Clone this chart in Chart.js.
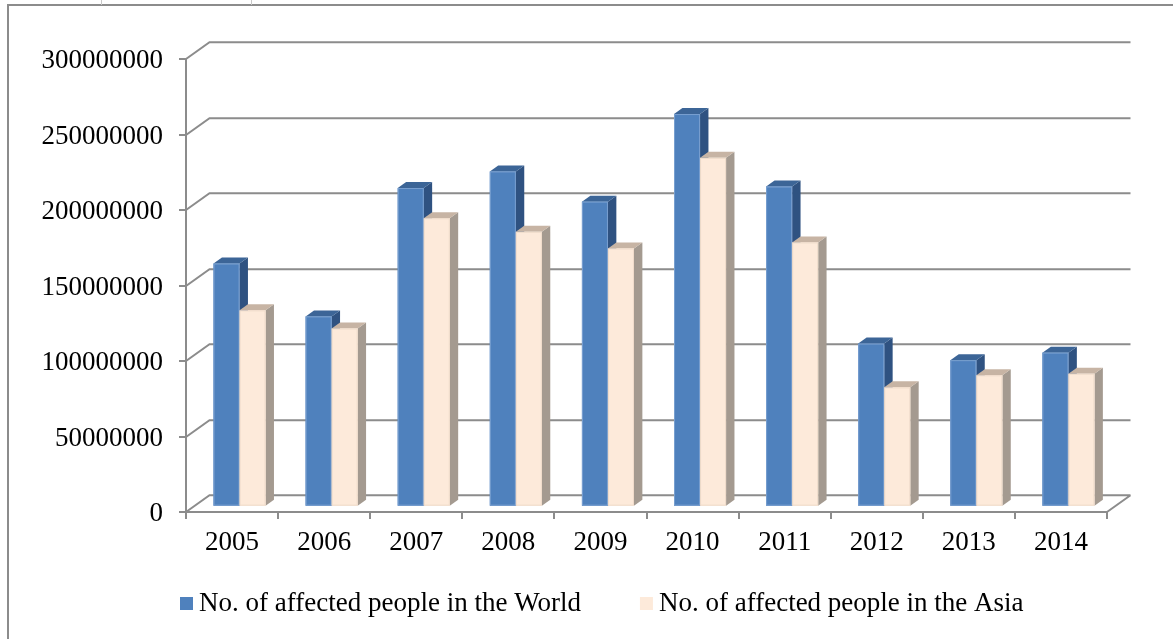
<!DOCTYPE html>
<html>
<head>
<meta charset="utf-8">
<script src="https://cdn.jsdelivr.net/npm/chart.js@4.4.1/dist/chart.umd.min.js"></script>
<style>
  html, body { margin: 0; padding: 0; background: #ffffff; overflow: hidden; }
  #wrap { width: 1173px; height: 639px; position: relative; }
  canvas { display: block; }
</style>
</head>
<body>
<div id="wrap"><canvas id="chart" width="1173" height="639"></canvas></div>
<script>
// Affected people by year
const years = ['2005', '2006', '2007', '2008', '2009', '2010', '2011', '2012', '2013', '2014'];
const worldAffected = [161000000, 126000000, 211000000, 222000000, 202000000, 260000000, 212000000, 108000000, 97000000, 102000000];
const asiaAffected  = [130000000, 118000000, 191000000, 182000000, 171000000, 231000000, 175000000, 79000000, 87000000, 88000000];
const yTicks = [0, 50000000, 100000000, 150000000, 200000000, 250000000, 300000000];

const seriesNames = ['No. of affected people in the World', 'No. of affected people in the Asia'];

// Face colours for the 3D columns: front, top, side
const faces = [
  { front: '#4F81BD', top: '#3C6597', side: '#2F5281', edge: 'rgba(150,180,220,0.6)' },
  { front: '#FDEADA', top: '#C7B4A4', side: '#A49A90', edge: 'rgba(235,215,198,0.8)' }
];

const GRID = '#8c8c8c';
const FONT = "'Liberation Serif', 'Times New Roman', serif";
const FONT_SIZE = 27;

// Oblique projection: back wall offset, column front plane and column depth
const WALL = { dx: 23.5, dy: -16.7 };
const PLANE = { dx: 7.5, dy: -5.35 };
const DEPTH = { dx: 8.4, dy: -6.0 };

const threeD = {
  id: 'threeD',
  beforeDraw(chart) {
    const ctx = chart.ctx;
    ctx.save();
    ctx.fillStyle = '#ffffff';
    ctx.fillRect(0, 0, chart.width, chart.height);
    // outer frame
    ctx.strokeStyle = '#8c8c8c';
    ctx.lineWidth = 2;
    ctx.beginPath();
    ctx.moveTo(8, chart.height);
    ctx.lineTo(8, 5);
    ctx.lineTo(chart.width, 5);
    ctx.stroke();
    ctx.strokeStyle = '#c8c8c8';
    ctx.lineWidth = 1;
    ctx.beginPath();
    [101.5, 251.5].forEach(x => { ctx.moveTo(x, 0); ctx.lineTo(x, 5); });
    ctx.stroke();
    ctx.restore();
  },
  beforeDatasetsDraw(chart) {
    const ctx = chart.ctx;
    const { left, right, bottom } = chart.chartArea;
    const ys = chart.scales.y;
    ctx.save();
    ctx.strokeStyle = GRID;
    ctx.lineWidth = 2;
    ctx.beginPath();
    yTicks.forEach(v => {
      const yf = Math.round(ys.getPixelForValue(v));
      ctx.moveTo(left, yf);
      ctx.lineTo(left + WALL.dx, yf + WALL.dy);
      ctx.lineTo(right + WALL.dx, yf + WALL.dy);
    });
    // right edge of the floor
    ctx.moveTo(right, bottom);
    ctx.lineTo(right + WALL.dx, bottom + WALL.dy);
    ctx.stroke();
    ctx.restore();
    // columns sit on a plane set back from the front axis
    ctx.save();
    ctx.translate(PLANE.dx, PLANE.dy);
  },
  afterDatasetsDraw(chart) {
    const ctx = chart.ctx;
    ctx.restore();
    const metas = chart.data.datasets.map((d, i) => chart.getDatasetMeta(i));
    ctx.save();
    for (let i = 0; i < years.length; i++) {
      metas.forEach((meta, di) => {
        const bar = meta.data[i];
        if (!bar) return;
        const p = bar.getProps(['x', 'y', 'base', 'width'], true);
        const c = faces[di];
        const x0 = p.x - p.width / 2 + PLANE.dx;
        const x1 = p.x + p.width / 2 + PLANE.dx;
        const yt = p.y + PLANE.dy;
        const yb = p.base + PLANE.dy;
        // side face
        ctx.fillStyle = c.side;
        ctx.beginPath();
        ctx.moveTo(x1, yt);
        ctx.lineTo(x1 + DEPTH.dx, yt + DEPTH.dy);
        ctx.lineTo(x1 + DEPTH.dx, yb + DEPTH.dy);
        ctx.lineTo(x1, yb);
        ctx.closePath();
        ctx.fill();
        // top face
        ctx.fillStyle = c.top;
        ctx.beginPath();
        ctx.moveTo(x0, yt);
        ctx.lineTo(x1, yt);
        ctx.lineTo(x1 + DEPTH.dx, yt + DEPTH.dy);
        ctx.lineTo(x0 + DEPTH.dx, yt + DEPTH.dy);
        ctx.closePath();
        ctx.fill();
        // front face
        ctx.fillStyle = c.front;
        ctx.fillRect(x0, yt, x1 - x0, yb - yt);
        ctx.strokeStyle = c.edge;
        ctx.lineWidth = 1;
        ctx.strokeRect(x0 + 0.5, yt + 0.5, x1 - x0 - 1, yb - yt - 1);
      });
    }
    ctx.restore();
  },
  afterDraw(chart) {
    // legend row under the axis
    const ctx = chart.ctx;
    ctx.save();
    ctx.font = FONT_SIZE + 'px ' + FONT;
    ctx.textBaseline = 'middle';
    ctx.textAlign = 'left';
    let x = 180;
    const yMid = 603.5;
    chart.data.datasets.forEach((ds, i) => {
      ctx.fillStyle = faces[i].front;
      ctx.fillRect(x, yMid - 6.5, 13, 13);
      ctx.fillStyle = '#000000';
      ctx.fillText(ds.label, x + 19, yMid);
      x += 19 + ctx.measureText(ds.label).width + 59;
    });
    ctx.restore();
  }
};

new Chart(document.getElementById('chart'), {
  type: 'bar',
  data: {
    labels: years,
    datasets: [
      { label: seriesNames[0], data: worldAffected, backgroundColor: faces[0].front, borderWidth: 0 },
      { label: seriesNames[1], data: asiaAffected, backgroundColor: faces[1].front, borderWidth: 0 }
    ]
  },
  options: {
    responsive: false,
    animation: false,
    devicePixelRatio: 1,
    categoryPercentage: 0.565,
    barPercentage: 1.0,
    layout: { padding: { left: 10, right: 66, top: 59, bottom: 67 } },
    plugins: {
      legend: { display: false },
      tooltip: { enabled: false },
      title: { display: false }
    },
    scales: {
      x: {
        type: 'category',
        grid: { offset: true, drawOnChartArea: false, drawTicks: true, tickLength: 7, color: GRID, lineWidth: 2 },
        border: { display: true, color: GRID, width: 2 },
        ticks: { color: '#000000', font: { family: FONT, size: FONT_SIZE }, padding: 8, maxRotation: 0, autoSkip: false },
        afterFit(scale) { scale.height = 60; }
      },
      y: {
        min: 0,
        max: 300000000,
        afterBuildTicks(scale) { scale.ticks = yTicks.map(v => ({ value: v })); },
        grid: { drawOnChartArea: false, drawTicks: true, tickLength: 7, color: GRID, lineWidth: 2 },
        border: { display: true, color: GRID, width: 2 },
        ticks: { color: '#000000', font: { family: FONT, size: FONT_SIZE }, padding: 16, labelOffset: 2, callback: v => String(v) },
        afterFit(scale) { scale.width = 176; }
      }
    }
  },
  plugins: [threeD]
});
</script>
</body>
</html>
